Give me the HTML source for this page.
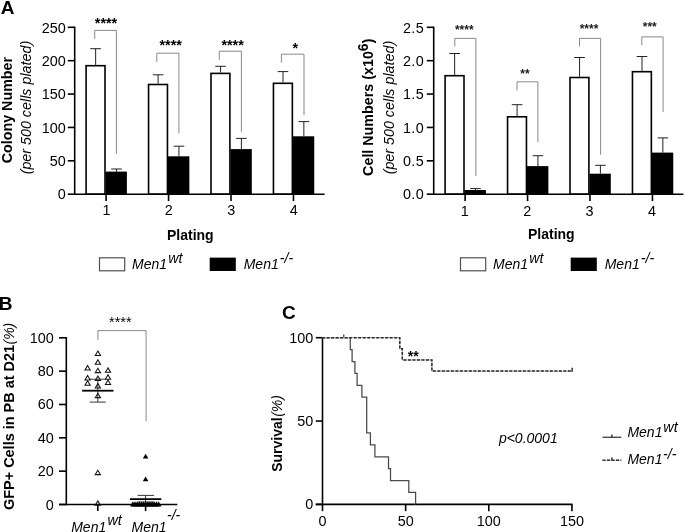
<!DOCTYPE html>
<html><head><meta charset="utf-8"><title>Figure</title>
<style>
html,body{margin:0;padding:0;background:#fff;}
svg{display:block;}
text{font-family:"Liberation Sans",Arial,Helvetica,sans-serif;font-size:14px;fill:#000;}
.b{font-weight:bold;}
.i{font-style:italic;}
.st{font-size:12.5px;font-weight:bold;}
.t{font-size:14.3px;}
.r{font-size:14.4px;}
.pl{font-size:19px;font-weight:bold;}
</style></head><body>
<svg width="685" height="532" viewBox="0 0 685 532">
<rect x="0" y="0" width="685" height="532" fill="#fff"/>
<line x1="95.65" y1="48.70" x2="95.65" y2="64.90" stroke="#222" stroke-width="1.0" />
<line x1="90.35" y1="48.70" x2="100.95" y2="48.70" stroke="#222" stroke-width="1.0" />
<rect x="86.10" y="65.70" width="18.90" height="128.50" fill="#fff" stroke="#000" stroke-width="1.6"/>
<line x1="116.50" y1="169.00" x2="116.50" y2="171.60" stroke="#222" stroke-width="1.0" />
<line x1="111.20" y1="169.00" x2="121.80" y2="169.00" stroke="#222" stroke-width="1.0" />
<rect x="105.50" y="171.60" width="21.4" height="22.60" fill="#000"/>
<line x1="158.10" y1="74.80" x2="158.10" y2="83.70" stroke="#222" stroke-width="1.0" />
<line x1="152.80" y1="74.80" x2="163.40" y2="74.80" stroke="#222" stroke-width="1.0" />
<rect x="148.55" y="84.50" width="18.90" height="109.70" fill="#fff" stroke="#000" stroke-width="1.6"/>
<line x1="178.95" y1="146.20" x2="178.95" y2="156.30" stroke="#222" stroke-width="1.0" />
<line x1="173.65" y1="146.20" x2="184.25" y2="146.20" stroke="#222" stroke-width="1.0" />
<rect x="167.95" y="156.30" width="21.4" height="37.90" fill="#000"/>
<line x1="220.55" y1="66.30" x2="220.55" y2="72.60" stroke="#222" stroke-width="1.0" />
<line x1="215.25" y1="66.30" x2="225.85" y2="66.30" stroke="#222" stroke-width="1.0" />
<rect x="211.00" y="73.40" width="18.90" height="120.80" fill="#fff" stroke="#000" stroke-width="1.6"/>
<line x1="241.40" y1="138.40" x2="241.40" y2="149.10" stroke="#222" stroke-width="1.0" />
<line x1="236.10" y1="138.40" x2="246.70" y2="138.40" stroke="#222" stroke-width="1.0" />
<rect x="230.40" y="149.10" width="21.4" height="45.10" fill="#000"/>
<line x1="283.00" y1="71.60" x2="283.00" y2="82.50" stroke="#222" stroke-width="1.0" />
<line x1="277.70" y1="71.60" x2="288.30" y2="71.60" stroke="#222" stroke-width="1.0" />
<rect x="273.45" y="83.30" width="18.90" height="110.90" fill="#fff" stroke="#000" stroke-width="1.6"/>
<line x1="303.85" y1="121.60" x2="303.85" y2="136.30" stroke="#222" stroke-width="1.0" />
<line x1="298.55" y1="121.60" x2="309.15" y2="121.60" stroke="#222" stroke-width="1.0" />
<rect x="292.85" y="136.30" width="21.4" height="57.90" fill="#000"/>
<line x1="74.70" y1="26.65" x2="74.70" y2="194.85" stroke="#000" stroke-width="1.6" />
<line x1="74.05" y1="194.20" x2="324.60" y2="194.20" stroke="#000" stroke-width="1.6" />
<line x1="67.80" y1="194.20" x2="74.70" y2="194.20" stroke="#000" stroke-width="1.6" />
<text x="65.80" y="199.40" text-anchor="end" class="r" >0</text>
<line x1="67.80" y1="160.82" x2="74.70" y2="160.82" stroke="#000" stroke-width="1.6" />
<text x="65.80" y="166.02" text-anchor="end" class="r" >50</text>
<line x1="67.80" y1="127.44" x2="74.70" y2="127.44" stroke="#000" stroke-width="1.6" />
<text x="65.80" y="132.64" text-anchor="end" class="r" >100</text>
<line x1="67.80" y1="94.06" x2="74.70" y2="94.06" stroke="#000" stroke-width="1.6" />
<text x="65.80" y="99.26" text-anchor="end" class="r" >150</text>
<line x1="67.80" y1="60.68" x2="74.70" y2="60.68" stroke="#000" stroke-width="1.6" />
<text x="65.80" y="65.88" text-anchor="end" class="r" >200</text>
<line x1="67.80" y1="27.30" x2="74.70" y2="27.30" stroke="#000" stroke-width="1.6" />
<text x="65.80" y="32.50" text-anchor="end" class="r" >250</text>
<line x1="106.10" y1="194.20" x2="106.10" y2="201.10" stroke="#000" stroke-width="1.6" />
<text x="106.40" y="215.00" text-anchor="middle" class="r" >1</text>
<line x1="168.55" y1="194.20" x2="168.55" y2="201.10" stroke="#000" stroke-width="1.6" />
<text x="168.85" y="215.00" text-anchor="middle" class="r" >2</text>
<line x1="231.00" y1="194.20" x2="231.00" y2="201.10" stroke="#000" stroke-width="1.6" />
<text x="231.30" y="215.00" text-anchor="middle" class="r" >3</text>
<line x1="293.45" y1="194.20" x2="293.45" y2="201.10" stroke="#000" stroke-width="1.6" />
<text x="293.75" y="215.00" text-anchor="middle" class="r" >4</text>
<polyline points="94.70,38.90 94.70,30.40 116.40,30.40 116.40,154.00" fill="none" stroke="#7c7c7c" stroke-width="0.9" />
<text x="106.00" y="28.10" text-anchor="middle" class="r st" >****</text>
<polyline points="156.80,62.00 156.80,53.20 178.90,53.20 178.90,133.40" fill="none" stroke="#7c7c7c" stroke-width="0.9" />
<text x="170.70" y="50.00" text-anchor="middle" class="r st" >****</text>
<polyline points="219.30,59.80 219.30,51.20 241.40,51.20 241.40,131.90" fill="none" stroke="#7c7c7c" stroke-width="0.9" />
<text x="232.60" y="50.00" text-anchor="middle" class="r st" >****</text>
<polyline points="281.40,62.80 281.40,54.20 304.00,54.20 304.00,115.20" fill="none" stroke="#7c7c7c" stroke-width="0.9" />
<text x="295.40" y="52.80" text-anchor="middle" class="r st" >*</text>
<text x="167.00" y="239.80" text-anchor="start" class="b" font-size="14.6">Plating</text>
<rect x="99.50" y="257.8" width="25.2" height="13.0" fill="#fff" stroke="#505050" stroke-width="1.2"/>
<rect x="209.70" y="257.6" width="26.1" height="13.4" fill="#000"/>
<text x="132.00" y="269.30" text-anchor="start" class="i" >Men1<tspan dy="-6.0" dx="1.3" font-size="14.2">wt</tspan></text>
<text x="243.70" y="269.30" text-anchor="start" class="i" >Men1<tspan dy="-6.0" dx="1.0" font-size="14.2">-/-</tspan></text>
<text transform="translate(12.1,110.1) rotate(-90)" text-anchor="middle" class="b t">Colony Number</text>
<text transform="translate(30.5,107.6) rotate(-90)" text-anchor="middle" class="i t">(per 500 cells plated)</text>
<text x="0.80" y="14.00" text-anchor="start" class="pl" >A</text>
<line x1="454.65" y1="53.50" x2="454.65" y2="74.90" stroke="#222" stroke-width="1.0" />
<line x1="449.35" y1="53.50" x2="459.95" y2="53.50" stroke="#222" stroke-width="1.0" />
<rect x="445.10" y="75.70" width="18.90" height="118.50" fill="#fff" stroke="#000" stroke-width="1.6"/>
<line x1="475.50" y1="188.60" x2="475.50" y2="190.00" stroke="#222" stroke-width="1.0" />
<line x1="470.20" y1="188.60" x2="480.80" y2="188.60" stroke="#222" stroke-width="1.0" />
<rect x="464.50" y="190.00" width="21.4" height="4.20" fill="#000"/>
<line x1="517.10" y1="104.70" x2="517.10" y2="116.00" stroke="#222" stroke-width="1.0" />
<line x1="511.80" y1="104.70" x2="522.40" y2="104.70" stroke="#222" stroke-width="1.0" />
<rect x="507.55" y="116.80" width="18.90" height="77.40" fill="#fff" stroke="#000" stroke-width="1.6"/>
<line x1="537.95" y1="155.70" x2="537.95" y2="166.10" stroke="#222" stroke-width="1.0" />
<line x1="532.65" y1="155.70" x2="543.25" y2="155.70" stroke="#222" stroke-width="1.0" />
<rect x="526.95" y="166.10" width="21.4" height="28.10" fill="#000"/>
<line x1="579.55" y1="57.50" x2="579.55" y2="76.70" stroke="#222" stroke-width="1.0" />
<line x1="574.25" y1="57.50" x2="584.85" y2="57.50" stroke="#222" stroke-width="1.0" />
<rect x="570.00" y="77.50" width="18.90" height="116.70" fill="#fff" stroke="#000" stroke-width="1.6"/>
<line x1="600.40" y1="165.30" x2="600.40" y2="173.70" stroke="#222" stroke-width="1.0" />
<line x1="595.10" y1="165.30" x2="605.70" y2="165.30" stroke="#222" stroke-width="1.0" />
<rect x="589.40" y="173.70" width="21.4" height="20.50" fill="#000"/>
<line x1="642.00" y1="56.50" x2="642.00" y2="70.90" stroke="#222" stroke-width="1.0" />
<line x1="636.70" y1="56.50" x2="647.30" y2="56.50" stroke="#222" stroke-width="1.0" />
<rect x="632.45" y="71.70" width="18.90" height="122.50" fill="#fff" stroke="#000" stroke-width="1.6"/>
<line x1="662.85" y1="137.90" x2="662.85" y2="152.60" stroke="#222" stroke-width="1.0" />
<line x1="657.55" y1="137.90" x2="668.15" y2="137.90" stroke="#222" stroke-width="1.0" />
<rect x="651.85" y="152.60" width="21.4" height="41.60" fill="#000"/>
<line x1="433.70" y1="26.65" x2="433.70" y2="194.85" stroke="#000" stroke-width="1.6" />
<line x1="433.05" y1="194.20" x2="683.40" y2="194.20" stroke="#000" stroke-width="1.6" />
<line x1="426.80" y1="194.20" x2="433.70" y2="194.20" stroke="#000" stroke-width="1.6" />
<text x="424.00" y="199.40" text-anchor="end" class="r" letter-spacing="0.35">0.0</text>
<line x1="426.80" y1="160.82" x2="433.70" y2="160.82" stroke="#000" stroke-width="1.6" />
<text x="424.00" y="166.02" text-anchor="end" class="r" letter-spacing="0.35">0.5</text>
<line x1="426.80" y1="127.44" x2="433.70" y2="127.44" stroke="#000" stroke-width="1.6" />
<text x="424.00" y="132.64" text-anchor="end" class="r" letter-spacing="0.35">1.0</text>
<line x1="426.80" y1="94.06" x2="433.70" y2="94.06" stroke="#000" stroke-width="1.6" />
<text x="424.00" y="99.26" text-anchor="end" class="r" letter-spacing="0.35">1.5</text>
<line x1="426.80" y1="60.68" x2="433.70" y2="60.68" stroke="#000" stroke-width="1.6" />
<text x="424.00" y="65.88" text-anchor="end" class="r" letter-spacing="0.35">2.0</text>
<line x1="426.80" y1="27.30" x2="433.70" y2="27.30" stroke="#000" stroke-width="1.6" />
<text x="424.00" y="32.50" text-anchor="end" class="r" letter-spacing="0.35">2.5</text>
<line x1="465.10" y1="194.20" x2="465.10" y2="201.10" stroke="#000" stroke-width="1.6" />
<text x="464.70" y="216.40" text-anchor="middle" class="r" >1</text>
<line x1="527.55" y1="194.20" x2="527.55" y2="201.10" stroke="#000" stroke-width="1.6" />
<text x="527.15" y="216.40" text-anchor="middle" class="r" >2</text>
<line x1="590.00" y1="194.20" x2="590.00" y2="201.10" stroke="#000" stroke-width="1.6" />
<text x="589.60" y="216.40" text-anchor="middle" class="r" >3</text>
<line x1="652.45" y1="194.20" x2="652.45" y2="201.10" stroke="#000" stroke-width="1.6" />
<text x="652.05" y="216.40" text-anchor="middle" class="r" >4</text>
<polyline points="454.80,46.40 454.80,38.40 475.90,38.40 475.90,176.00" fill="none" stroke="#7c7c7c" stroke-width="0.9" />
<text x="464.30" y="34.40" text-anchor="middle" class="r st" style="font-size:12px;fill:#1a1a1a">****</text>
<polyline points="517.00,90.40 517.00,81.80 537.90,81.80 537.90,142.20" fill="none" stroke="#7c7c7c" stroke-width="0.9" />
<text x="525.00" y="78.40" text-anchor="middle" class="r st" style="font-size:12px;fill:#1a1a1a">**</text>
<polyline points="579.50,46.40 579.50,38.40 600.60,38.40 600.60,154.70" fill="none" stroke="#7c7c7c" stroke-width="0.9" />
<text x="589.00" y="32.90" text-anchor="middle" class="r st" style="font-size:12px;fill:#1a1a1a">****</text>
<polyline points="641.80,45.20 641.80,36.90 663.10,36.90 663.10,111.80" fill="none" stroke="#7c7c7c" stroke-width="0.9" />
<text x="649.80" y="31.20" text-anchor="middle" class="r st" style="font-size:12px;fill:#1a1a1a">***</text>
<text x="528.00" y="239.30" text-anchor="start" class="b" font-size="14.6">Plating</text>
<rect x="460.50" y="257.8" width="25.2" height="13.0" fill="#fff" stroke="#505050" stroke-width="1.2"/>
<rect x="570.70" y="257.6" width="26.1" height="13.4" fill="#000"/>
<text x="493.00" y="269.30" text-anchor="start" class="i" >Men1<tspan dy="-6.0" dx="1.3" font-size="14.2">wt</tspan></text>
<text x="604.70" y="269.30" text-anchor="start" class="i" >Men1<tspan dy="-6.0" dx="1.0" font-size="14.2">-/-</tspan></text>
<text transform="translate(373.2,175.9) rotate(-90)" text-anchor="start" class="b t">Cell Numbers (x10<tspan dy="-5.2" font-size="14">6</tspan><tspan dy="5.2">)</tspan></text>
<text transform="translate(393.6,107.6) rotate(-90)" text-anchor="middle" class="i t">(per 500 cells plated)</text>
<text x="-1.30" y="309.70" text-anchor="start" class="pl" >B</text>
<line x1="66.30" y1="337.15" x2="66.30" y2="505.15" stroke="#000" stroke-width="1.6" />
<line x1="59.00" y1="504.50" x2="177.40" y2="504.50" stroke="#000" stroke-width="1.6" />
<line x1="59.00" y1="504.50" x2="66.30" y2="504.50" stroke="#000" stroke-width="1.6" />
<text x="53.70" y="509.50" text-anchor="end" class="r" >0</text>
<line x1="59.00" y1="471.16" x2="66.30" y2="471.16" stroke="#000" stroke-width="1.6" />
<text x="53.70" y="476.16" text-anchor="end" class="r" >20</text>
<line x1="59.00" y1="437.82" x2="66.30" y2="437.82" stroke="#000" stroke-width="1.6" />
<text x="53.70" y="442.82" text-anchor="end" class="r" >40</text>
<line x1="59.00" y1="404.48" x2="66.30" y2="404.48" stroke="#000" stroke-width="1.6" />
<text x="53.70" y="409.48" text-anchor="end" class="r" >60</text>
<line x1="59.00" y1="371.14" x2="66.30" y2="371.14" stroke="#000" stroke-width="1.6" />
<text x="53.70" y="376.14" text-anchor="end" class="r" >80</text>
<line x1="59.00" y1="337.80" x2="66.30" y2="337.80" stroke="#000" stroke-width="1.6" />
<text x="53.70" y="342.80" text-anchor="end" class="r" >100</text>
<line x1="97.80" y1="504.50" x2="97.80" y2="511.10" stroke="#000" stroke-width="1.6" />
<line x1="145.60" y1="504.50" x2="145.60" y2="511.10" stroke="#000" stroke-width="1.6" />
<polyline points="97.90,339.90 97.90,330.60 146.10,330.60 146.10,421.10" fill="none" stroke="#7c7c7c" stroke-width="0.9" />
<text x="120.30" y="327.10" text-anchor="middle" class="r" font-size="12.8">****</text>
<line x1="97.80" y1="379.20" x2="97.80" y2="402.10" stroke="#222" stroke-width="0.9" />
<line x1="89.70" y1="379.20" x2="105.80" y2="379.20" stroke="#222" stroke-width="0.9" />
<line x1="89.70" y1="402.10" x2="105.80" y2="402.10" stroke="#222" stroke-width="0.9" />
<line x1="82.10" y1="390.70" x2="113.50" y2="390.70" stroke="#000" stroke-width="1.8" />
<polygon points="97.90,351.10 95.30,355.50 100.50,355.50" fill="#fff" fill-opacity="0" stroke="#111" stroke-width="1.05"/>
<polygon points="97.90,359.80 95.30,364.20 100.50,364.20" fill="#fff" fill-opacity="0" stroke="#111" stroke-width="1.05"/>
<polygon points="87.60,365.60 85.00,370.00 90.20,370.00" fill="#fff" fill-opacity="0" stroke="#111" stroke-width="1.05"/>
<polygon points="97.90,368.20 95.30,372.60 100.50,372.60" fill="#fff" fill-opacity="0" stroke="#111" stroke-width="1.05"/>
<polygon points="108.00,367.90 105.40,372.30 110.60,372.30" fill="#fff" fill-opacity="0" stroke="#111" stroke-width="1.05"/>
<polygon points="87.60,375.60 85.00,380.00 90.20,380.00" fill="#fff" fill-opacity="0" stroke="#111" stroke-width="1.05"/>
<polygon points="97.90,376.10 95.30,380.50 100.50,380.50" fill="#fff" fill-opacity="0" stroke="#111" stroke-width="1.05"/>
<polygon points="108.00,374.80 105.40,379.20 110.60,379.20" fill="#fff" fill-opacity="0" stroke="#111" stroke-width="1.05"/>
<polygon points="87.60,380.80 85.00,385.20 90.20,385.20" fill="#fff" fill-opacity="0" stroke="#111" stroke-width="1.05"/>
<polygon points="108.00,380.00 105.40,384.40 110.60,384.40" fill="#fff" fill-opacity="0" stroke="#111" stroke-width="1.05"/>
<polygon points="97.90,383.50 95.30,387.90 100.50,387.90" fill="#fff" fill-opacity="0" stroke="#111" stroke-width="1.05"/>
<polygon points="97.90,393.20 95.30,397.60 100.50,397.60" fill="#fff" fill-opacity="0" stroke="#111" stroke-width="1.05"/>
<polygon points="97.80,470.20 95.20,474.60 100.40,474.60" fill="#fff" fill-opacity="0" stroke="#111" stroke-width="1.05"/>
<polygon points="97.80,500.90 95.20,505.30 100.40,505.30" fill="#fff" fill-opacity="0" stroke="#111" stroke-width="1.05"/>
<line x1="145.60" y1="495.40" x2="145.60" y2="502.00" stroke="#222" stroke-width="0.9" />
<line x1="137.60" y1="495.40" x2="154.00" y2="495.40" stroke="#222" stroke-width="0.9" />
<line x1="137.60" y1="502.00" x2="154.00" y2="502.00" stroke="#222" stroke-width="0.9" />
<line x1="129.90" y1="499.20" x2="161.30" y2="499.20" stroke="#000" stroke-width="1.7" />
<polygon points="145.60,453.70 142.80,458.40 148.40,458.40" fill="#000"/>
<polygon points="145.60,476.50 142.80,481.20 148.40,481.20" fill="#000"/>
<polygon points="132.90,501.30 130.00,506.50 135.80,506.50" fill="#000"/>
<polygon points="135.04,501.30 132.14,506.50 137.94,506.50" fill="#000"/>
<polygon points="137.18,501.30 134.28,506.50 140.08,506.50" fill="#000"/>
<polygon points="139.32,501.30 136.42,506.50 142.22,506.50" fill="#000"/>
<polygon points="141.46,501.30 138.56,506.50 144.36,506.50" fill="#000"/>
<polygon points="143.60,501.30 140.70,506.50 146.50,506.50" fill="#000"/>
<polygon points="145.74,501.30 142.84,506.50 148.64,506.50" fill="#000"/>
<polygon points="147.88,501.30 144.98,506.50 150.78,506.50" fill="#000"/>
<polygon points="150.02,501.30 147.12,506.50 152.92,506.50" fill="#000"/>
<polygon points="152.16,501.30 149.26,506.50 155.06,506.50" fill="#000"/>
<polygon points="154.30,501.30 151.40,506.50 157.20,506.50" fill="#000"/>
<polygon points="156.44,501.30 153.54,506.50 159.34,506.50" fill="#000"/>
<polygon points="158.58,501.30 155.68,506.50 161.48,506.50" fill="#000"/>
<text x="71.20" y="531.60" text-anchor="start" class="i" >Men1<tspan dy="-6.4" dx="1.3" font-size="14.2">wt</tspan></text>
<text x="131.60" y="531.60" text-anchor="start" class="i" >Men1</text>
<text x="167.00" y="519.70" text-anchor="start" class="i" font-size="14.2">-/-</text>
<text transform="translate(13.6,510.0) rotate(-90)" text-anchor="start"><tspan class="b" textLength="165" lengthAdjust="spacingAndGlyphs">GFP+ Cells in PB at D21</tspan><tspan class="i" dx="0.5">(%)</tspan></text>
<text x="281.90" y="318.70" text-anchor="start" class="pl" >C</text>
<line x1="322.50" y1="337.05" x2="322.50" y2="505.05" stroke="#000" stroke-width="1.6" />
<line x1="315.80" y1="504.40" x2="572.60" y2="504.40" stroke="#000" stroke-width="1.6" />
<line x1="315.80" y1="504.40" x2="322.50" y2="504.40" stroke="#000" stroke-width="1.6" />
<text x="313.30" y="509.40" text-anchor="end" class="r" >0</text>
<line x1="315.80" y1="421.05" x2="322.50" y2="421.05" stroke="#000" stroke-width="1.6" />
<text x="313.30" y="426.05" text-anchor="end" class="r" >50</text>
<line x1="315.80" y1="337.70" x2="322.50" y2="337.70" stroke="#000" stroke-width="1.6" />
<text x="313.30" y="342.70" text-anchor="end" class="r" >100</text>
<line x1="322.50" y1="504.40" x2="322.50" y2="511.20" stroke="#000" stroke-width="1.6" />
<text x="322.50" y="526.30" text-anchor="middle" class="r" >0</text>
<line x1="405.65" y1="504.40" x2="405.65" y2="511.20" stroke="#000" stroke-width="1.6" />
<text x="405.65" y="526.30" text-anchor="middle" class="r" >50</text>
<line x1="488.80" y1="504.40" x2="488.80" y2="511.20" stroke="#000" stroke-width="1.6" />
<text x="488.80" y="526.30" text-anchor="middle" class="r" >100</text>
<line x1="571.95" y1="504.40" x2="571.95" y2="511.20" stroke="#000" stroke-width="1.6" />
<text x="571.95" y="526.30" text-anchor="middle" class="r" >150</text>
<polyline points="322.20,337.70 350.30,337.70 350.30,349.61 352.10,349.61 352.10,361.51 354.90,361.51 354.90,373.42 357.10,373.42 357.10,385.33 361.90,385.33 361.90,397.24 366.70,397.24 366.70,432.96 370.40,432.96 370.40,444.86 374.90,444.86 374.90,456.77 388.50,456.77 388.50,468.68 390.50,468.68 390.50,480.59 408.80,480.59 408.80,492.49 415.60,492.49 415.60,504.40" fill="none" stroke="#4a4a4a" stroke-width="1.25" />
<line x1="343.80" y1="334.40" x2="343.80" y2="337.70" stroke="#222" stroke-width="1.1" />
<polyline points="322.20,337.70 399.80,337.70 399.80,348.81 402.30,348.81 402.30,359.93 431.90,359.93 431.90,371.04 571.95,371.04" fill="none" stroke="#c4c4c4" stroke-width="1.3" />
<polyline points="322.20,337.70 399.80,337.70 399.80,348.81 402.30,348.81 402.30,359.93 431.90,359.93 431.90,371.04 571.95,371.04" fill="none" stroke="#2a2a2a" stroke-width="1.5" stroke-dasharray="3 1.5"/>
<line x1="572.15" y1="367.84" x2="572.15" y2="371.64" stroke="#222" stroke-width="1.4" />
<text x="413.20" y="361.30" text-anchor="middle" class="b" font-size="11.2">**</text>
<text x="498.90" y="442.90" text-anchor="start" class="i" font-size="14.35">p&lt;0.0001</text>
<line x1="602.50" y1="437.30" x2="621.30" y2="437.30" stroke="#4a4a4a" stroke-width="1.4" />
<line x1="611.90" y1="434.60" x2="611.90" y2="437.30" stroke="#222" stroke-width="1.3" />
<line x1="602.50" y1="460.20" x2="621.30" y2="460.20" stroke="#c4c4c4" stroke-width="1.2" />
<line x1="602.50" y1="460.20" x2="621.30" y2="460.20" stroke="#333" stroke-width="1.4" stroke-dasharray="3 1.5"/>
<line x1="611.90" y1="457.50" x2="611.90" y2="460.20" stroke="#222" stroke-width="1.3" />
<text x="627.40" y="436.80" text-anchor="start" class="i" >Men1<tspan dy="-5.2" dx="0.9" font-size="14.4">wt</tspan></text>
<text x="627.40" y="464.00" text-anchor="start" class="i" >Men1<tspan dy="-4.8" dx="0.6" font-size="14.2">-/-</tspan></text>
<text transform="translate(282.3,471.8) rotate(-90)" text-anchor="start"><tspan class="b">Survival</tspan><tspan class="i" dx="0.5">(%)</tspan></text>
</svg></body></html>
